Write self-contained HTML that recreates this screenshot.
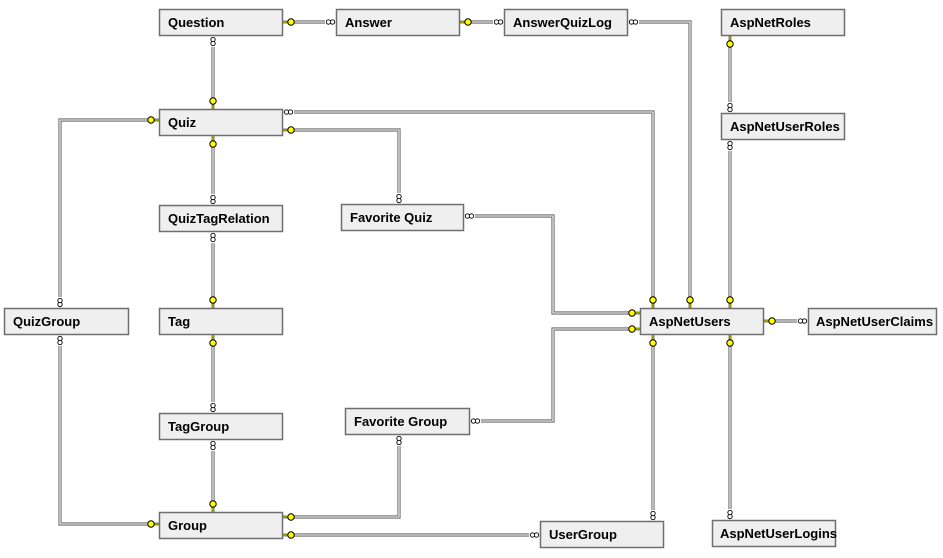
<!DOCTYPE html>
<html><head><meta charset="utf-8"><style>
html,body{margin:0;padding:0;background:#fff;width:943px;height:558px;overflow:hidden}
svg{display:block}
.b{fill:#efefef;stroke:#6f6f6f;stroke-width:1.5}
text{font-family:"Liberation Sans",sans-serif;font-weight:bold;font-size:13px;fill:#000}
</style></head><body>
<svg id="s" width="943" height="558" viewBox="0 0 943 558">
<g id="lines"></g>
<g>
<rect class="b" x="159.5" y="9.5" width="123" height="26"/><text x="168" y="27">Question</text>
<rect class="b" x="336.5" y="9.5" width="123" height="26"/><text x="345" y="27">Answer</text>
<rect class="b" x="504.5" y="9.5" width="123" height="26"/><text x="513" y="27">AnswerQuizLog</text>
<rect class="b" x="721.5" y="9.5" width="123" height="26"/><text x="730" y="27">AspNetRoles</text>
<rect class="b" x="159.5" y="109.5" width="123" height="26"/><text x="168" y="127">Quiz</text>
<rect class="b" x="721.5" y="113.5" width="123" height="26"/><text x="730" y="131">AspNetUserRoles</text>
<rect class="b" x="159.5" y="205.5" width="123" height="26"/><text x="168" y="223">QuizTagRelation</text>
<rect class="b" x="341.5" y="204.5" width="122" height="26"/><text x="350" y="222">Favorite Quiz</text>
<rect class="b" x="4.5" y="308.5" width="124" height="26"/><text x="13" y="326">QuizGroup</text>
<rect class="b" x="159.5" y="308.5" width="123" height="26"/><text x="168" y="326">Tag</text>
<rect class="b" x="640.5" y="308.5" width="123" height="26"/><text x="649" y="326">AspNetUsers</text>
<rect class="b" x="808.5" y="308.5" width="128" height="26"/><text x="816" y="326">AspNetUserClaims</text>
<rect class="b" x="159.5" y="413.5" width="123" height="26"/><text x="168" y="431">TagGroup</text>
<rect class="b" x="345.5" y="408.5" width="124" height="26"/><text x="354" y="426">Favorite Group</text>
<rect class="b" x="159.5" y="512.5" width="123" height="26"/><text x="168" y="530">Group</text>
<rect class="b" x="540.5" y="521.5" width="123" height="26"/><text x="549" y="539">UserGroup</text>
<rect class="b" x="712.5" y="520.5" width="123" height="26"/><text x="720" y="538">AspNetUserLogins</text>
</g>
</svg>
<script>
var NS="http://www.w3.org/2000/svg",L=document.getElementById("lines");
function el(t,a){var e=document.createElementNS(NS,t);for(var k in a)e.setAttribute(k,a[k]);L.appendChild(e);return e;}
function mark(p,q,type){
 var dx=Math.sign(q[0]-p[0]),dy=Math.sign(q[1]-p[1]);
 if(type=="k"){
  el("line",{x1:p[0],y1:p[1],x2:p[0]+dx*6,y2:p[1]+dy*6,stroke:"#000","stroke-width":2.5});
  el("line",{x1:p[0],y1:p[1],x2:p[0]+dx*6,y2:p[1]+dy*6,stroke:"#ffff00","stroke-width":1.2});
  el("circle",{cx:p[0]+dx*8,cy:p[1]+dy*8,r:3.2,fill:"#ffff00",stroke:"#000","stroke-width":1});
 }else{
  el("circle",{cx:p[0]+dx*3.5,cy:p[1]+dy*3.5,r:2.2,fill:"#fff",stroke:"#000","stroke-width":0.9});
  el("circle",{cx:p[0]+dx*7.5,cy:p[1]+dy*7.5,r:2.2,fill:"#fff",stroke:"#000","stroke-width":0.9});
 }
}
function c(pts,a,b){
 var s=pts.map(function(p){return p.join(",")}).join(" ");
 el("polyline",{points:s,fill:"none",stroke:"#6a6a6a","stroke-width":3.2});
 el("polyline",{points:s,fill:"none",stroke:"#fff","stroke-width":1.1});
 var n=pts.length;
 function cover(p,q){var dx=Math.sign(q[0]-p[0]),dy=Math.sign(q[1]-p[1]);
  el("line",{x1:p[0],y1:p[1],x2:p[0]+dx*11,y2:p[1]+dy*11,stroke:"#fff","stroke-width":5});}
 cover(pts[0],pts[1]);cover(pts[n-1],pts[n-2]);
 mark(pts[0],pts[1],a);mark(pts[n-1],pts[n-2],b);
}
c([[283,22],[336,22]],"k","m");
c([[460,22],[504,22]],"k","m");
c([[628,22],[690,22],[690,308]],"m","k");
c([[730,36],[730,113]],"k","m");
c([[730,140],[730,308]],"m","k");
c([[213,36],[213,109]],"m","k");
c([[283,112],[653,112],[653,308]],"m","k");
c([[283,130],[399,130],[399,204]],"k","m");
c([[159,120],[60,120],[60,308]],"k","m");
c([[213,136],[213,205]],"k","m");
c([[213,232],[213,308]],"m","k");
c([[213,335],[213,413]],"k","m");
c([[213,440],[213,512]],"m","k");
c([[60,335],[60,524],[159,524]],"m","k");
c([[464,216],[553,216],[553,313],[640,313]],"m","k");
c([[470,421],[553,421],[553,329],[640,329]],"m","k");
c([[399,435],[399,517],[283,517]],"m","k");
c([[283,535],[540,535]],"k","m");
c([[653,521],[653,335]],"m","k");
c([[730,520],[730,335]],"m","k");
c([[764,321],[808,321]],"k","m");
</script>
</body></html>
